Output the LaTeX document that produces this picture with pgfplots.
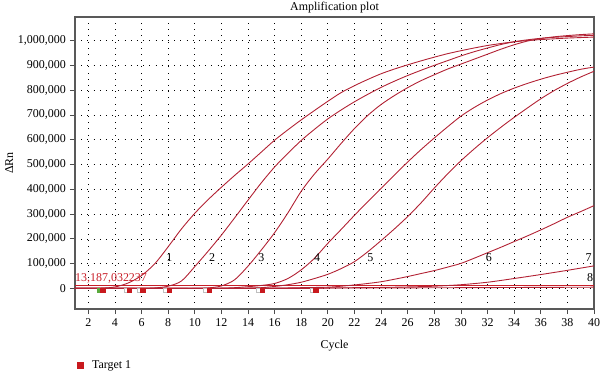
\documentclass[border=0pt]{standalone}
\usepackage{fontspec}
\setmainfont{Liberation Serif}
\usepackage{pgfplots}
\pgfplotsset{compat=1.18}
\definecolor{curve}{RGB}{178,34,52}
\definecolor{thr}{RGB}{200,30,40}
\definecolor{ctred}{RGB}{200,25,30}
\definecolor{ctgreen}{RGB}{90,170,60}
\begin{document}
\fontsize{12}{14}\selectfont
\begin{tikzpicture}
\useasboundingbox (-75bp,-65bp) rectangle (525bp,309bp);
\begin{axis}[
  scale only axis, width=519bp, height=292bp,
  xmin=1, xmax=40, ymin=-83000, ymax=1095000,
  xtick={2,4,...,40}, ytick={0,100000,...,1000000},
  scaled y ticks=false,
  yticklabel style={/pgf/number format/.cd, fixed, 1000 sep={,}},
  /pgf/number format/assume math mode=true,
  tick align=outside, tick pos=left, major tick length=5bp,
  grid=major,
  major grid style={black, line width=0.7bp, dash pattern=on 0.7bp off 5.5bp},
  axis line style={draw=black!65, line width=1.2bp},
  every tick/.style={black!70, line width=0.8bp},
  ticklabel style={font=\fontsize{12}{14}\selectfont},
  title={Amplification plot},
  title style={at={(axis description cs:0.5,1)}, anchor=base, yshift=1bp, inner sep=0pt, font=\fontsize{12}{14}\selectfont},
  xlabel={Cycle},
  xlabel style={at={(axis description cs:0.5,0)}, anchor=base, yshift=-39bp, font=\fontsize{12}{14}\selectfont},
  ylabel={ΔRn},
  ylabel style={at={(axis description cs:-0.127,0.5)}, anchor=center, font=\fontsize{12}{14}\selectfont},
  legend style={at={(axis description cs:0,-0.195)}, anchor=west, draw=none, fill=none, inner sep=0pt, xshift=2bp,
    font=\fontsize{12}{14}\selectfont, /tikz/every odd column/.append style={column sep=6bp}},
  legend cell align=left,
  legend image code/.code={\fill (0bp,-3bp) rectangle (6bp,3bp);},
  every axis plot/.append style={line width=0.9bp},
]
% threshold
\addplot[thr, line width=1bp, forget plot] coordinates {(1,13187) (40,13187)};
% curve 1
\addplot[curve, smooth, forget plot] coordinates {
(1,0)(2,0)(3,1000)(4,6000)(5,22000)(6,52000)(7,100000)(8,168000)(9,240000)(10,303000)
(11,358000)(12,408000)(13,456000)(14,502000)(15,550000)(16,598000)(17,640000)(18,680000)(19,718000)(20,755000)
(21,790000)(22,818000)(23,843000)(24,866000)(25,885000)(26,902000)(27,918000)(28,933000)(29,947000)(30,959000)
(31,970000)(32,980000)(33,988000)(34,995000)(35,1000000)(36,1004000)(37,1007000)(38,1010000)(39,1012000)(40,1014000)};
% curve 2
\addplot[curve, smooth, forget plot] coordinates {
(1,0)(2,0)(3,0)(4,0)(5,0)(6,0)(7,2000)(8,9000)(9,30000)(10,88000)
(11,150000)(12,215000)(13,285000)(14,356000)(15,426000)(16,490000)(17,545000)(18,597000)(19,642000)(20,684000)
(21,720000)(22,753000)(23,783000)(24,811000)(25,836000)(26,859000)(27,880000)(28,900000)(29,919000)(30,938000)
(31,955000)(32,970000)(33,984000)(34,995000)(35,1003000)(36,1009000)(37,1013000)(38,1016000)(39,1019000)(40,1021000)};
% curve 3
\addplot[curve, smooth, forget plot] coordinates {
(1,0)(2,0)(3,0)(4,0)(5,0)(6,0)(7,0)(8,0)(9,0)(10,0)
(11,2000)(12,10000)(13,35000)(14,90000)(15,155000)(16,225000)(17,305000)(18,392000)(19,462000)(20,522000)
(21,585000)(22,645000)(23,698000)(24,742000)(25,778000)(26,810000)(27,838000)(28,862000)(29,885000)(30,905000)
(31,925000)(32,945000)(33,965000)(34,983000)(35,998000)(36,1008000)(37,1015000)(38,1020000)(39,1024000)(40,1027000)};
% curve 4
\addplot[curve, smooth, forget plot] coordinates {
(1,0)(2,0)(3,0)(4,0)(5,0)(6,0)(7,0)(8,0)(9,0)(10,0)
(11,0)(12,1000)(13,3000)(14,7000)(15,12000)(16,20000)(17,40000)(18,75000)(19,122000)(20,182000)
(21,238000)(22,295000)(23,350000)(24,403000)(25,457000)(26,510000)(27,560000)(28,607000)(29,652000)(30,695000)
(31,730000)(32,760000)(33,786000)(34,808000)(35,827000)(36,844000)(37,859000)(38,872000)(39,884000)(40,893000)};
% curve 5
\addplot[curve, smooth, forget plot] coordinates {
(1,0)(2,0)(3,0)(4,0)(5,0)(6,0)(7,0)(8,0)(9,0)(10,0)
(11,0)(12,0)(13,0)(14,1000)(15,3000)(16,8000)(17,15000)(18,25000)(19,40000)(20,57000)
(21,80000)(22,108000)(23,148000)(24,193000)(25,240000)(26,290000)(27,345000)(28,405000)(29,462000)(30,515000)
(31,563000)(32,608000)(33,650000)(34,690000)(35,728000)(36,765000)(37,798000)(38,827000)(39,853000)(40,876000)};
% curve 6
\addplot[curve, smooth, forget plot] coordinates {
(1,0)(4,0)(8,0)(12,0)(14,500)(16,1000)(18,3000)(20,5000)(21,9000)(22,14000)(23,20000)(24,27000)(25,37000)
(26,48000)(27,60000)(28,72000)(29,86000)(30,101000)(31,122000)(32,144000)(33,166000)(34,189000)(35,212000)
(36,236000)(37,261000)(38,287000)(39,310000)(40,334000)};
% curve 7
\addplot[curve, smooth, forget plot] coordinates {
(1,0)(6,0)(12,0)(18,0)(20,2000)(22,3000)(24,4000)(26,6000)(28,9000)(30,15000)(32,25000)(34,40000)(36,56000)(38,73000)(40,91000)};
% curve 8
\addplot[curve, forget plot] coordinates {(1,0)(10,500)(20,1500)(30,3000)(40,5000)};
% Ct markers
\addplot[only marks, mark=square*, mark size=2bp, draw=black!25, fill=white, forget plot] coordinates {
(4.85,-7000)(5.85,-7000)(7.8,-7000)(10.8,-7000)(14.8,-7000)(18.85,-7000)};
\addplot[only marks, mark=square*, mark size=2bp, color=ctgreen, forget plot] coordinates {(2.85,-7000)};
\addplot[only marks, mark=square*, mark size=2.2bp, color=ctred] coordinates {
(3.1,-7000)(5.1,-7000)(6.1,-7000)(8.1,-7000)(11.1,-7000)(15.1,-7000)(19.1,-7000)};
\addlegendentry{Target 1}
% labels
\node[text=thr, anchor=west, inner sep=0pt] at (axis cs:1,42000) {13,187,032237};
\node at (axis cs:8.1,125000) {1};
\node at (axis cs:11.3,125000) {2};
\node at (axis cs:15.0,125000) {3};
\node at (axis cs:19.2,125000) {4};
\node at (axis cs:23.2,125000) {5};
\node at (axis cs:32.1,125000) {6};
\node at (axis cs:39.6,125000) {7};
\node at (axis cs:39.7,45000) {8};
\end{axis}
\end{tikzpicture}
\end{document}
